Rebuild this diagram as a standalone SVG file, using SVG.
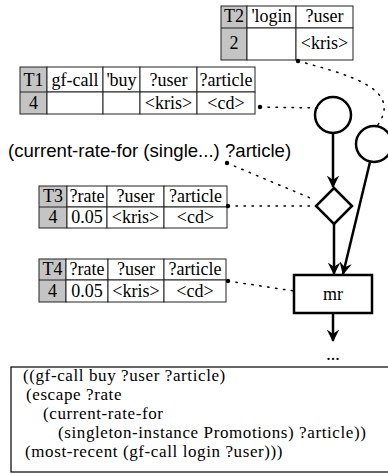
<svg xmlns="http://www.w3.org/2000/svg" width="388" height="474" viewBox="0 0 388 474">
<defs>
<style>
.cell{fill:#fff;stroke:#222;stroke-width:1}
.gray{fill:#c4c4c4;stroke:#222;stroke-width:1}
.t{font-family:"Liberation Serif","Times New Roman",serif;font-size:18px;fill:#000;text-anchor:middle}
.code{font-family:"Liberation Serif","Times New Roman",serif;font-size:17px;letter-spacing:0.6px;fill:#000}
.lbl{font-family:"Liberation Sans",Arial,sans-serif;font-size:18.6px;fill:#000}
.node{fill:#fff;stroke:#000;stroke-width:2.5}
.edge{fill:none;stroke:#000;stroke-width:2.5}
.dot{fill:none;stroke:#000;stroke-width:1.5;stroke-dasharray:1.5 6.5;stroke-linecap:round}
.pin{fill:#000}
</style>
<marker id="arr" viewBox="0 0 12 12" refX="11" refY="6" markerWidth="5" markerHeight="5" orient="auto" markerUnits="strokeWidth">
<path d="M0,0 L12,6 L0,12 L4,6 z" fill="#000"/>
</marker>
</defs>

<g id="T2">
<rect class="gray" x="221" y="6" width="26" height="54"/>
<rect class="cell" x="247" y="6" width="49" height="22"/>
<rect class="cell" x="296" y="6" width="57" height="22"/>
<rect class="cell" x="247" y="28" width="49" height="32"/>
<rect class="cell" x="296" y="28" width="57" height="32"/>
<line x1="221" y1="28" x2="247" y2="28" stroke="#222"/>
<text class="t" x="234" y="22">T2</text>
<text class="t" x="271.5" y="22">'login</text>
<text class="t" x="324.5" y="22">?user</text>
<text class="t" x="234" y="49">2</text>
<text class="t" x="324.5" y="49">&lt;kris&gt;</text>
</g>

<g id="T1">
<rect class="gray" x="20" y="67" width="27" height="47"/>
<rect class="cell" x="47" y="67" width="56" height="25"/>
<rect class="cell" x="103" y="67" width="37" height="25"/>
<rect class="cell" x="140" y="67" width="57" height="25"/>
<rect class="cell" x="197" y="67" width="58" height="25"/>
<rect class="cell" x="47" y="92" width="56" height="22"/>
<rect class="cell" x="103" y="92" width="37" height="22"/>
<rect class="cell" x="140" y="92" width="57" height="22"/>
<rect class="cell" x="197" y="92" width="58" height="22"/>
<line x1="20" y1="92" x2="47" y2="92" stroke="#222"/>
<text class="t" x="33.5" y="86">T1</text>
<text class="t" x="75" y="86">gf-call</text>
<text class="t" x="121.5" y="86">'buy</text>
<text class="t" x="168.5" y="86">?user</text>
<text class="t" x="226" y="86">?article</text>
<text class="t" x="33.5" y="109">4</text>
<text class="t" x="168.5" y="109">&lt;kris&gt;</text>
<text class="t" x="226" y="109">&lt;cd&gt;</text>
</g>

<g id="T3">
<rect class="gray" x="39" y="186" width="28" height="42"/>
<rect class="cell" x="67" y="186" width="40" height="21"/>
<rect class="cell" x="107" y="186" width="57" height="21"/>
<rect class="cell" x="164" y="186" width="63" height="21"/>
<rect class="cell" x="67" y="207" width="40" height="21"/>
<rect class="cell" x="107" y="207" width="57" height="21"/>
<rect class="cell" x="164" y="207" width="63" height="21"/>
<line x1="39" y1="207" x2="67" y2="207" stroke="#222"/>
<text class="t" x="53" y="202">T3</text>
<text class="t" x="87" y="202">?rate</text>
<text class="t" x="135.5" y="202">?user</text>
<text class="t" x="195.5" y="202">?article</text>
<text class="t" x="53" y="223">4</text>
<text class="t" x="87" y="223">0.05</text>
<text class="t" x="135.5" y="223">&lt;kris&gt;</text>
<text class="t" x="195.5" y="223">&lt;cd&gt;</text>
</g>

<g id="T4">
<rect class="gray" x="39" y="259" width="27" height="43"/>
<rect class="cell" x="66" y="259" width="42" height="21"/>
<rect class="cell" x="108" y="259" width="56" height="21"/>
<rect class="cell" x="164" y="259" width="62" height="21"/>
<rect class="cell" x="66" y="280" width="42" height="22"/>
<rect class="cell" x="108" y="280" width="56" height="22"/>
<rect class="cell" x="164" y="280" width="62" height="22"/>
<line x1="39" y1="280" x2="66" y2="280" stroke="#222"/>
<text class="t" x="52.5" y="275">T4</text>
<text class="t" x="87" y="275">?rate</text>
<text class="t" x="136" y="275">?user</text>
<text class="t" x="195" y="275">?article</text>
<text class="t" x="52.5" y="297">4</text>
<text class="t" x="87" y="297">0.05</text>
<text class="t" x="136" y="297">&lt;kris&gt;</text>
<text class="t" x="195" y="297">&lt;cd&gt;</text>
</g>

<g id="label">
<text class="lbl" x="8" y="157">(current-rate-for (single...) ?article)</text>
</g>

<g id="circle1"><circle class="node" cx="333" cy="115" r="18"/></g>
<g id="circle2"><circle class="node" cx="374" cy="144" r="18"/></g>
<g id="diamond"><polygon class="node" points="334,188 352,206 334,224 316,206"/></g>
<g id="mr">
<rect class="node" x="294" y="275" width="78" height="38"/>
<text class="t" x="333" y="300">mr</text>
</g>
<g id="ellipsis"><text class="t" x="333" y="360">...</text></g>

<g id="code">
<rect x="11" y="367" width="380" height="105" fill="#fff" stroke="#000" stroke-width="1.2"/>
<text class="code" x="23" y="381">((gf-call buy ?user ?article)</text>
<text class="code" x="26" y="400">(escape ?rate</text>
<text class="code" x="43" y="419">(current-rate-for</text>
<text class="code" x="58" y="438">(singleton-instance Promotions) ?article))</text>
<text class="code" x="25" y="457">(most-recent (gf-call login ?user)))</text>
</g>

<g id="connectors">
<path class="dot" d="M298,61 C345,74 405,88 377,126"/>
<path class="dot" d="M260,107 L318,108"/>
<path class="dot" d="M227,163 L315,200"/>
<path class="dot" d="M228,206 L314,206"/>
<path class="dot" d="M228,281 L294,291"/>
<circle class="pin" cx="298" cy="61" r="2.2"/>
<circle class="pin" cx="260" cy="107" r="2.2"/>
<circle class="pin" cx="227" cy="163" r="2.2"/>
<circle class="pin" cx="228" cy="206" r="2.2"/>
<circle class="pin" cx="228" cy="281" r="2.2"/>
<line class="edge" x1="333" y1="133" x2="333" y2="187" marker-end="url(#arr)"/>
<line class="edge" x1="334" y1="224" x2="334" y2="274" marker-end="url(#arr)"/>
<line class="edge" x1="370" y1="162" x2="343" y2="274" marker-end="url(#arr)"/>
<line class="edge" x1="333" y1="313" x2="333" y2="341" marker-end="url(#arr)"/>
</g>
</svg>
